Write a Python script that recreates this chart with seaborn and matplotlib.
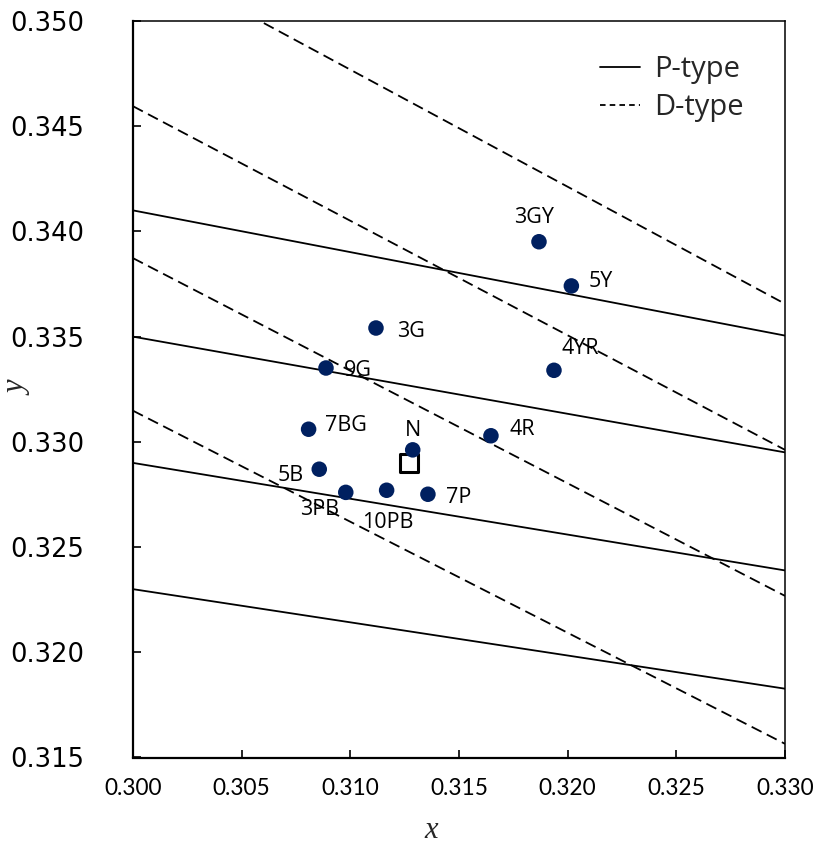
import matplotlib
matplotlib.use("Agg")
import matplotlib.pyplot as plt
from matplotlib import font_manager
from matplotlib.lines import Line2D
import seaborn as sns
import pandas as pd

# ---- data ----
sample_names = ["3GY", "5Y", "3G", "4YR", "9G", "7BG", "4R", "N", "5B", "3PB", "10PB", "7P"]
sample_x = [0.31868, 0.32017, 0.31118, 0.31937, 0.30888, 0.30808, 0.31647, 0.31287, 0.30857, 0.30979, 0.31167, 0.31357]
sample_y = [0.33951, 0.33741, 0.33541, 0.33340, 0.33351, 0.33060, 0.33029, 0.32962, 0.32870, 0.32760, 0.32770, 0.32751]

white_x = [0.3127]
white_y = [0.3290]

line_x = [0.300, 0.330]
p_type_start = [0.3410, 0.3350, 0.3290, 0.3230]
p_type_end = [0.33505, 0.32950, 0.32389, 0.31827]
d_type_start = [0.35325, 0.34595, 0.33873, 0.33148]
d_type_end = [0.33656, 0.32962, 0.32268, 0.31565]

x_ticks = [0.300, 0.305, 0.310, 0.315, 0.320, 0.325, 0.330]
y_ticks = [0.315, 0.320, 0.325, 0.330, 0.335, 0.340, 0.345, 0.350]

# label offsets (points)
label_offsets = {
    "3GY": (-3.6, 19.4), "5Y": (20.9, 4.5), "3G": (25.2, -0.7), "4YR": (19.1, 17.6),
    "9G": (22.7, 0.0), "7BG": (26.6, 4.0), "4R": (22.3, 6.1), "N": (0.0, 15.8),
    "7P": (22.1, -0.5), "5B": (-20.9, -3.2), "3PB": (-19.0, -10.4), "10PB": (0.9, -21.4),
}

# ---- fonts ----
def have(name):
    try:
        font_manager.findfont(font_manager.FontProperties(family=name), fallback_to_default=False)
        return True
    except Exception:
        return False

narrow = "Liberation Sans Narrow" if have("Liberation Sans Narrow") else "Lato"
xtick_size = 19 if narrow == "Liberation Sans Narrow" else 16.3

sns.set_theme(style="white")
plt.rcParams["lines.scale_dashes"] = False

DASH = (0, (8.0, 4.2))

rows = []
for i, (a, b) in enumerate(zip(p_type_start, p_type_end)):
    rows += [dict(x=line_x[0], y=a, line=f"P{i}", kind="P"), dict(x=line_x[1], y=b, line=f"P{i}", kind="P")]
for i, (a, b) in enumerate(zip(d_type_start, d_type_end)):
    rows += [dict(x=line_x[0], y=a, line=f"D{i}", kind="D"), dict(x=line_x[1], y=b, line=f"D{i}", kind="D")]
lines_df = pd.DataFrame(rows)
pts_df = pd.DataFrame(dict(x=sample_x, y=sample_y, name=sample_names))
white_df = pd.DataFrame(dict(x=white_x, y=white_y))

fig = plt.figure(figsize=(8.14, 8.46), dpi=100)
ax = fig.add_axes([133 / 814, 1 - 757.5 / 846, (785 - 133) / 814, (757.5 - 21) / 846])

for name, g in lines_df.groupby("line", sort=False):
    kind = g["kind"].iloc[0]
    sns.lineplot(data=g, x="x", y="y", ax=ax, color="black", linewidth=1.3,
                 linestyle="-" if kind == "P" else DASH, estimator=None,
                 sort=False, legend=False, zorder=2)

sns.scatterplot(data=pts_df, x="x", y="y", ax=ax, color="#002060", s=125,
                edgecolor="none", legend=False, zorder=4)
sns.scatterplot(data=white_df, x="x", y="y", ax=ax, marker="s", s=170,
                facecolor="white", edgecolor="black", linewidth=2.2, legend=False, zorder=3)

for nm, px, py in zip(sample_names, sample_x, sample_y):
    dx, dy = label_offsets[nm]
    ax.annotate(nm, (px, py), xytext=(dx, dy - 5.6), textcoords="offset points",
                ha="center", va="baseline", fontsize=15.5, family="Open Sans",
                color="black", zorder=5)

ax.set_xlim(0.300, 0.330)
ax.set_ylim(0.315, 0.350)
ax.set_xticks(x_ticks)
ax.set_yticks(y_ticks)
ax.set_xticklabels([f"{t:.3f}" for t in x_ticks], fontsize=xtick_size, family=narrow)
ax.set_yticklabels([f"{t:.3f}" for t in y_ticks], fontsize=18.5, family="DejaVu Sans")
ax.tick_params(axis="both", direction="in", length=6, width=1.2, colors="black",
               left=True, bottom=True, top=False, right=False)
ax.tick_params(axis="y", pad=35)
ax.tick_params(axis="x", pad=15)

for side in ["left", "bottom"]:
    ax.spines[side].set_linewidth(1.6)
    ax.spines[side].set_color("black")
for side in ["top", "right"]:
    ax.spines[side].set_linewidth(1.1)
    ax.spines[side].set_color("black")

ax.set_xlabel("x", fontsize=22, family="Liberation Serif", style="italic")
ax.set_ylabel("y", fontsize=22, family="Liberation Serif", style="italic", rotation=90)
ax.xaxis.set_label_coords((431 - 133) / 652, -(830 - 757.5) / 736.5)
ax.yaxis.set_label_coords((18 - 133) / 652, (757.5 - 388) / 736.5)
ax.xaxis.label.set_va("center")
ax.yaxis.label.set_va("center")

handles = [Line2D([0], [0], color="black", linewidth=1.3, linestyle="-"),
           Line2D([0], [0], color="black", linewidth=1.3, linestyle=(0, (4.0, 3.0)))]
ax.legend(handles, ["P-type", "D-type"], loc="upper left", frameon=False,
          prop=dict(family="Open Sans", size=21), handlelength=1.37, handletextpad=0.5,
          labelspacing=0.32, borderpad=0, borderaxespad=0,
          bbox_to_anchor=((600 - 133) / 652, (757.5 - 55) / 736.5))

fig.savefig("out.png", dpi=100)
